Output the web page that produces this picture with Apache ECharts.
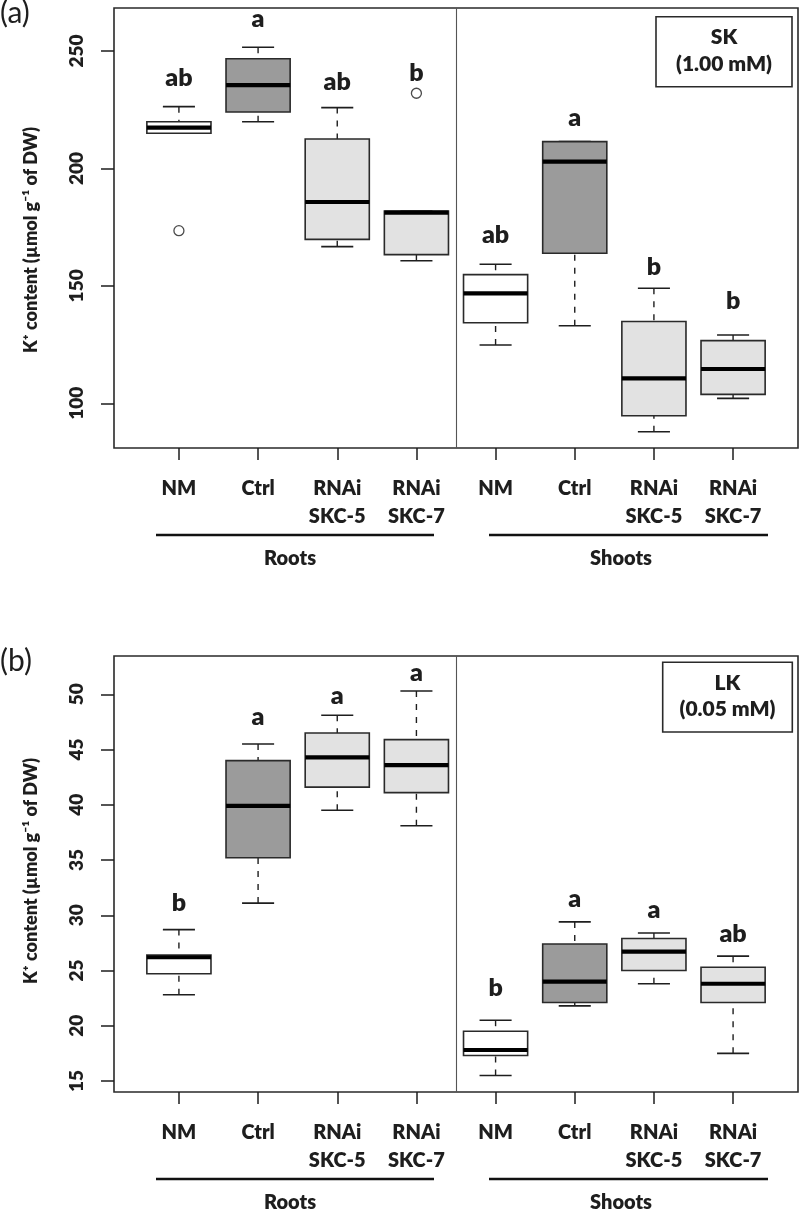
<!DOCTYPE html>
<html>
<head>
<meta charset="utf-8">
<script src="https://cdn.jsdelivr.net/npm/echarts@6/dist/echarts.min.js"></script>
<style>
html,body{margin:0;padding:0;background:#fff;}
#chart{width:800px;height:1211px;}
</style>
</head>
<body>
<div id="chart"></div>
<script>
// ---------- data ----------
const categories = ['NM', 'Ctrl', 'RNAi\nSKC-5', 'RNAi\nSKC-7', 'NM', 'Ctrl', 'RNAi\nSKC-5', 'RNAi\nSKC-7'];
const fillGroup = ['white', 'dark', 'light', 'light', 'white', 'dark', 'light', 'light'];
const organs = ['Roots', 'Shoots'];

// panel (a) SK 1.00 mM : [lower whisker, Q1, median, Q3, upper whisker]
const statsA = [
  [215.0, 215.0, 217.4, 219.9, 226.3],
  [219.9, 224.0, 235.5, 246.7, 251.6],
  [166.7, 169.8, 185.7, 212.5, 225.9],
  [160.7, 163.3, 181.2, 181.9, 181.9],
  [124.8, 134.3, 146.8, 154.8, 159.2],
  [133.0, 163.9, 202.9, 211.4, 211.4],
  [87.9, 94.7, 110.6, 134.8, 149.0],
  [102.1, 103.8, 114.6, 126.7, 129.1]
];
const outliersA = [[1, 173.5], [4, 232.0]];
const lettersA = ['ab', 'a', 'ab', 'b', 'ab', 'a', 'b', 'b'];
const letterBaseA = [234.5, 259.7, 232.7, 236.5, 167.4, 217.5, 153.9, 139.3];
const ticksA = [100, 150, 200, 250];

// panel (b) LK 0.05 mM
const statsB = [
  [22.8, 24.7, 26.2, 26.4, 28.7],
  [31.1, 35.2, 39.9, 44.0, 45.5],
  [39.5, 41.6, 44.3, 46.5, 48.1],
  [38.1, 41.1, 43.6, 45.9, 50.3],
  [15.5, 17.3, 17.8, 19.5, 20.5],
  [21.8, 22.1, 24.0, 27.4, 29.4],
  [23.8, 25.0, 26.7, 27.9, 28.4],
  [17.5, 22.1, 23.8, 25.3, 26.3]
];
const outliersB = [];
const lettersB = ['b', 'a', 'a', 'a', 'b', 'a', 'a', 'ab'];
const letterBaseB = [30.2, 47.1, 49.0, 51.1, 22.5, 30.6, 29.6, 27.4];
const ticksB = [15, 20, 25, 30, 35, 40, 45, 50];

const panelTags = ['(a)', '(b)'];
const conditions = ['SK\n(1.00 mM)', 'LK\n(0.05 mM)'];
const yTitle = 'K\u207A content (\u00B5mol g\u207B\u00B9 of DW)';

// ---------- style ----------
const FONT = 'Lato';
const W = 800;
const INK = '#1e1e1e';
const fillColor = { white: '#ffffff', dark: '#9b9b9b', light: '#e2e2e2' };
const positions = categories.map((c, i) => i + 1);

function boxRender(params, api) {
  const x = api.value(0);
  const lo = api.coord([x, api.value(1)]);
  const q1 = api.coord([x, api.value(2)]);
  const md = api.coord([x, api.value(3)]);
  const q3 = api.coord([x, api.value(4)]);
  const hi = api.coord([x, api.value(5)]);
  const bw = api.size([0.81, 0])[0];
  const sw = bw / 2;
  const cx = lo[0];
  const fill = fillColor[fillGroup[params.dataIndex]];
  const dash = { stroke: INK, lineWidth: 1.4, lineDash: [6, 7] };
  const solid = { stroke: INK, lineWidth: 1.6 };
  return {
    type: 'group',
    children: [
      { type: 'line', shape: { x1: cx, y1: hi[1], x2: cx, y2: q3[1] }, style: dash },
      { type: 'line', shape: { x1: cx, y1: lo[1], x2: cx, y2: q1[1] }, style: dash },
      { type: 'line', shape: { x1: cx - sw / 2, y1: hi[1], x2: cx + sw / 2, y2: hi[1] }, style: solid },
      { type: 'line', shape: { x1: cx - sw / 2, y1: lo[1], x2: cx + sw / 2, y2: lo[1] }, style: solid },
      { type: 'rect', shape: { x: cx - bw / 2, y: q3[1], width: bw, height: q1[1] - q3[1] },
        style: { fill: fill, stroke: '#2a2a2a', lineWidth: 1.6 } },
      { type: 'line', shape: { x1: cx - bw / 2, y1: md[1], x2: cx + bw / 2, y2: md[1] },
        style: { stroke: '#000', lineWidth: 4.2 } }
    ]
  };
}

function letterRender(letters) {
  return function (params, api) {
    const p = api.coord([api.value(0), api.value(1)]);
    const fs = 25;
    return {
      type: 'text',
      x: p[0], y: p[1] - 0.387 * fs,
      style: { text: letters[params.dataIndex], font: W + ' ' + fs + 'px ' + FONT,
        fill: INK, align: 'center', verticalAlign: 'middle' }
    };
  };
}

const grids = [
  { left: 114, top: 8, width: 684, height: 440 },
  { left: 114, top: 656, width: 684, height: 436 }
];
const yRanges = [[80.97, 268.3], [14.0, 53.47]];
const yTicks = [ticksA, ticksB];
const statsAll = [statsA, statsB];
const outAll = [outliersA, outliersB];
const letAll = [lettersA, lettersB];
const letPosAll = [letterBaseA, letterBaseB];

const option = {
  animation: false,
  backgroundColor: '#fff',
  textStyle: { fontFamily: FONT },
  grid: grids.map(g => Object.assign({ show: true, borderColor: '#2a2a2a', borderWidth: 1.6, backgroundColor: 'transparent' }, g)),
  xAxis: grids.map((g, i) => ({
    type: 'value', gridIndex: i, min: 0.18, max: 8.82,
    axisLine: { show: false },
    splitLine: { show: false },
    axisTick: { show: true, length: 12, customValues: positions, lineStyle: { color: INK, width: 1.5 } },
    axisLabel: {
      customValues: positions, margin: 27, fontSize: 20, fontWeight: W, color: INK,
      lineHeight: 27.7, align: 'center', verticalAlign: 'top',
      formatter: v => categories[Math.round(v) - 1]
    }
  })),
  yAxis: grids.map((g, i) => ({
    type: 'value', gridIndex: i, min: yRanges[i][0], max: yRanges[i][1],
    axisLine: { show: false },
    splitLine: { show: false },
    axisTick: { show: true, length: 13, customValues: yTicks[i], lineStyle: { color: INK, width: 1.5 } },
    axisLabel: { customValues: yTicks[i], rotate: 90, margin: 28, fontSize: 19, fontWeight: W, color: INK }
  })),
  series: []
};

[0, 1].forEach(i => {
  option.series.push({
    type: 'custom', xAxisIndex: i, yAxisIndex: i,
    renderItem: boxRender,
    data: statsAll[i].map((s, k) => [positions[k]].concat(s)),
    markLine: {
      silent: true, symbol: ['none', 'none'], label: { show: false },
      lineStyle: { color: '#555', width: 1.1, type: 'solid' },
      data: [{ xAxis: 4.5 }]
    }
  });
  option.series.push({
    type: 'scatter', xAxisIndex: i, yAxisIndex: i,
    symbol: 'circle', symbolSize: 10,
    itemStyle: { color: '#fff', borderColor: INK, borderWidth: 1.3 },
    data: outAll[i]
  });
  option.series.push({
    type: 'custom', xAxisIndex: i, yAxisIndex: i,
    renderItem: letterRender(letAll[i]),
    data: letPosAll[i].map((v, k) => [positions[k], v])
  });
});

// annotations
const panelTop = [0, 648];
const gBottom = [448, 1092];
const graphics = [];
[0, 1].forEach(i => {
  const b = gBottom[i];
  graphics.push({ type: 'text', x: 0, y: panelTop[i] + 13,
    style: { text: panelTags[i], font: '30px ' + FONT, fill: INK, align: 'left', verticalAlign: 'middle' } });
  graphics.push({ type: 'text', x: 31, y: i === 0 ? 240 : 871, rotation: Math.PI / 2,
    style: { text: yTitle, font: W + ' 18px ' + FONT, fill: INK, align: 'center', verticalAlign: 'middle' } });
  // legend box
  const lb = i === 0 ? { x: 656, y: 16.7, w: 136, h: 70 } : { x: 662.7, y: 662.3, w: 129.6, h: 69.7 };
  graphics.push({ type: 'rect', shape: { x: lb.x, y: lb.y, width: lb.w, height: lb.h },
    style: { fill: '#fff', stroke: '#2a2a2a', lineWidth: 1.6 } });
  graphics.push({ type: 'text', x: lb.x + lb.w / 2, y: lb.y + lb.h / 2 - 1,
    style: { text: conditions[i], font: W + ' 21px ' + FONT, fill: INK, align: 'center', verticalAlign: 'middle', lineHeight: 26.7 } });
  // group underlines + names
  graphics.push({ type: 'line', shape: { x1: 156, y1: b + 87, x2: 434, y2: b + 87 }, style: { stroke: '#111', lineWidth: 2.6 } });
  graphics.push({ type: 'line', shape: { x1: 489, y1: b + 87, x2: 768, y2: b + 87 }, style: { stroke: '#111', lineWidth: 2.6 } });
  graphics.push({ type: 'text', x: 290, y: b + 118 - 7.6,
    style: { text: organs[0], font: W + ' 20px ' + FONT, fill: INK, align: 'center', verticalAlign: 'middle' } });
  graphics.push({ type: 'text', x: 621, y: b + 118 - 7.6,
    style: { text: organs[1], font: W + ' 20px ' + FONT, fill: INK, align: 'center', verticalAlign: 'middle' } });
});
option.graphic = { elements: graphics };

const chart = echarts.init(document.getElementById('chart'), null, { renderer: 'canvas' });
chart.setOption(option);
</script>
</body>
</html>
